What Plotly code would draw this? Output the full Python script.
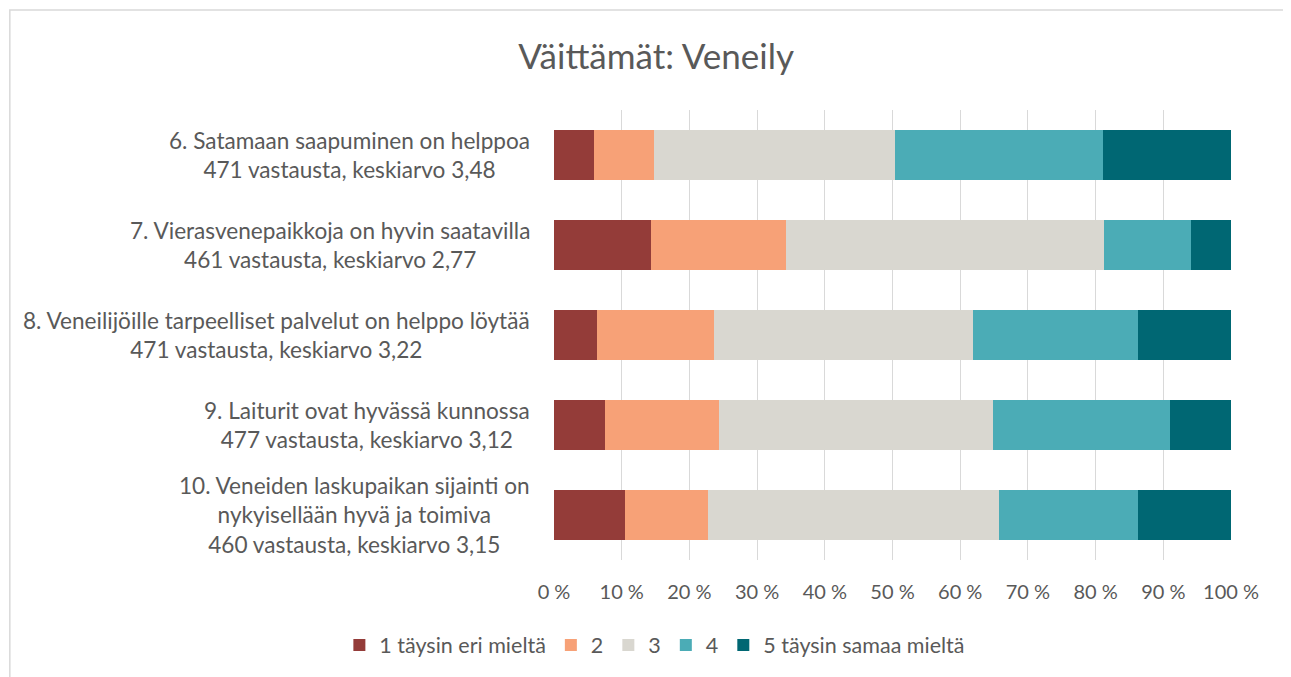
import plotly.graph_objects as go

categories = [
    "6. Satamaan saapuminen on helppoa<br>471 vastausta, keskiarvo 3,48",
    "7. Vierasvenepaikkoja on hyvin saatavilla<br>461 vastausta, keskiarvo 2,77",
    "8. Veneilijöille tarpeelliset palvelut on helppo löytää<br>471 vastausta, keskiarvo 3,22",
    "9. Laiturit ovat hyvässä kunnossa<br>477 vastausta, keskiarvo 3,12",
    "10. Veneiden laskupaikan sijainti on<br>nykyisellään hyvä ja toimiva<br>460 vastausta, keskiarvo 3,15",
]
series_names = ["1 täysin eri mieltä", "2", "3", "4", "5 täysin samaa mieltä"]
v1 = [5.9, 14.3, 6.3, 7.5, 10.5]
v2 = [8.8, 19.9, 17.3, 16.9, 12.3]
v3 = [35.7, 47.1, 38.3, 40.4, 42.9]
v4 = [30.7, 12.8, 24.4, 26.2, 20.5]
v5 = [18.9, 5.9, 13.7, 9.0, 13.8]
series_values = [v1, v2, v3, v4, v5]
colors = ["#943C39", "#F7A177", "#D9D7D0", "#4BACB6", "#006773"]
tick_vals = [0, 10, 20, 30, 40, 50, 60, 70, 80, 90, 100]
tick_text = ["0 %", "10 %", "20 %", "30 %", "40 %", "50 %", "60 %", "70 %", "80 %", "90 %", "100 %"]

FONT = "Lato"
TXT = "#595959"

fig = go.Figure()
for name, vals, col in zip(series_names, series_values, colors):
    fig.add_trace(go.Bar(
        y=categories, x=vals, name=name, orientation="h",
        marker=dict(color=col, line=dict(width=0)),
    ))

for cat in categories:
    fig.add_annotation(
        x=-0.033, xref="paper", y=cat, yref="y",
        text=cat, showarrow=False, xanchor="right", yanchor="middle",
        align="center", font=dict(family=FONT, size=22.6, color=TXT),
    )

fig.add_shape(
    type="rect", xref="paper", yref="paper",
    x0=-0.8038, x1=1.12, y0=-0.30, y1=1.2222,
    line=dict(color="#D9D9D9", width=1.5), fillcolor="rgba(0,0,0,0)", layer="below",
)

fig.update_layout(
    width=1291, height=677,
    barmode="stack", bargap=0.444,
    paper_bgcolor="white", plot_bgcolor="white",
    margin=dict(l=545.5, r=67.5, t=102, b=125),
    title=dict(text="Väittämät: Veneily", x=0.502, xanchor="center", y=0.9276, yanchor="middle",
               font=dict(family=FONT, size=35, color=TXT)),
    font=dict(family=FONT, color=TXT),
    legend=dict(orientation="h", x=0.149, xanchor="center", y=-0.189, yanchor="middle",
                font=dict(family=FONT, size=21.5, color=TXT), traceorder="normal"),
    xaxis=dict(range=[0, 100], tickvals=tick_vals, ticktext=tick_text,
               showgrid=True, gridcolor="#D9D9D9", gridwidth=1, zeroline=False,
               tickfont=dict(family=FONT, size=20, color=TXT), ticks="",
               ticklabelstandoff=18, fixedrange=True),
    yaxis=dict(categoryorder="array", categoryarray=categories, autorange="reversed",
               showticklabels=False, showgrid=False, zeroline=False, showline=False),
    showlegend=True,
)

fig.write_html("out.html")
